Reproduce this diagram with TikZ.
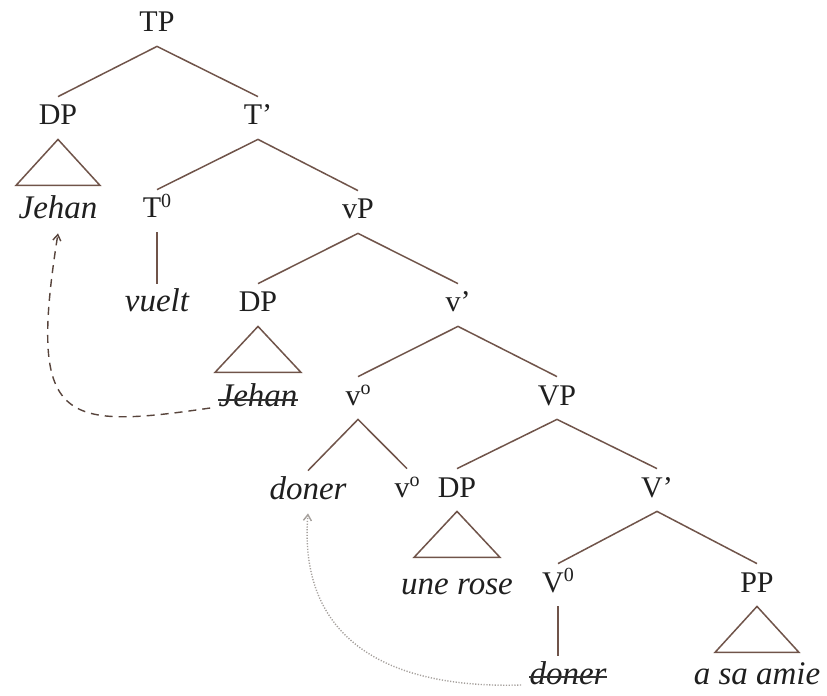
\documentclass[tikz,border=0pt]{standalone}
\usepackage{fontspec}
\setmainfont{Liberation Serif}
\usepackage{tikz}
\usetikzlibrary{arrows.meta}
\definecolor{agszin}{RGB}{112,84,74}
\definecolor{nyomszin}{RGB}{88,68,60}
\definecolor{pontszin}{RGB}{165,160,156}
\newcommand{\fok}[1]{\raisebox{0.75ex}{\fontsize{10}{10}\selectfont #1}}
\tikzset{
  kat/.style={inner sep=4pt,text height=10pt,text depth=3pt,text=black!88,font=\fontsize{15}{18}\selectfont},
  szo/.style={kat,font=\fontsize{16.5}{20}\selectfont\itshape},
  ag/.style={draw=agszin,line width=0.75pt},
  athuz/.style={draw=black!80,line width=0.6pt,shorten <=4pt,shorten >=4pt},
  mozg/.style={draw=nyomszin,line width=0.7pt,dash pattern=on 4pt off 3pt,-{Straight Barb[length=3pt,width=4pt]}},
  fej/.style={draw=pontszin,line width=0.7pt,dash pattern=on 0.6pt off 0.8pt,-{Straight Barb[length=3pt,width=4pt]}},
}

\begin{document}
\begin{tikzpicture}[x=0.5pt,y=-0.5pt]
  \useasboundingbox (0,0) rectangle (827,696);
  \node[kat] (tp) at (157,25) {TP};
  \node[kat] (dpa) at (58,118) {DP};
  \node[kat] (tbar) at (258,118) {T’};
  \node[szo] (jehana) at (58,212) {Jehan};
  \node[kat] (tnull) at (157,211) {T\fok{0}};
  \node[kat] (vp) at (358,212) {vP};
  \node[szo] (vuelt) at (157,305) {vuelt};
  \node[kat] (dpb) at (258,305) {DP};
  \node[kat] (vbar) at (458,305) {v’};
  \node[szo] (jehanb) at (258,400) {Jehan};
  \node[kat] (vnull) at (358,398) {v\fok{o}};
  \node[kat] (bigvp) at (557,398) {VP};
  \node[szo] (donera) at (308,492) {doner};
  \node[kat] (vnullb) at (407,490) {v\fok{o}};
  \node[kat] (dpc) at (457,490) {DP};
  \node[kat] (bigvbar) at (657,490) {V’};
  \node[szo] (rose) at (457,587) {une rose};
  \node[kat] (bigvnull) at (558,585) {V\fok{0}};
  \node[kat] (pp) at (757,585) {PP};
  \node[szo] (donerb) at (568,677) {doner};
  \node[szo] (amie) at (757,677) {a sa amie};

  \draw[ag] (dpa.north) -- (tp.south) -- (tbar.north);
  \draw[ag] (tnull.north) -- (tbar.south) -- (vp.north);
  \draw[ag] (dpb.north) -- (vp.south) -- (vbar.north);
  \draw[ag] (vnull.north) -- (vbar.south) -- (bigvp.north);
  \draw[ag] (donera.north) -- (vnull.south) -- (vnullb.north);
  \draw[ag] (dpc.north) -- (bigvp.south) -- (bigvbar.north);
  \draw[ag] (bigvnull.north) -- (bigvbar.south) -- (pp.north);
  \draw[ag] (tnull.south) -- (vuelt.north);
  \draw[ag] (bigvnull.south) -- (bigvnull.south |- donerb.north);
  \foreach \n/\w in {dpa/42,dpb/43,dpc/43,pp/42}
    \draw[ag] (\n.south) -- ++(-\w,46) -- ++(2*\w,0) -- cycle;

  \draw[athuz] (jehanb.west) -- (jehanb.east);
  \draw[athuz] (donerb.west) -- (donerb.east);

  \draw[mozg] ([yshift=-4pt]jehanb.west) .. controls +(-150,22) and +(-30,190) .. (jehana.south);
  \draw[fej] ([yshift=-4pt]donerb.west) .. controls +(-135,4) and +(-10,125) .. (donera.south);
\end{tikzpicture}
\end{document}
